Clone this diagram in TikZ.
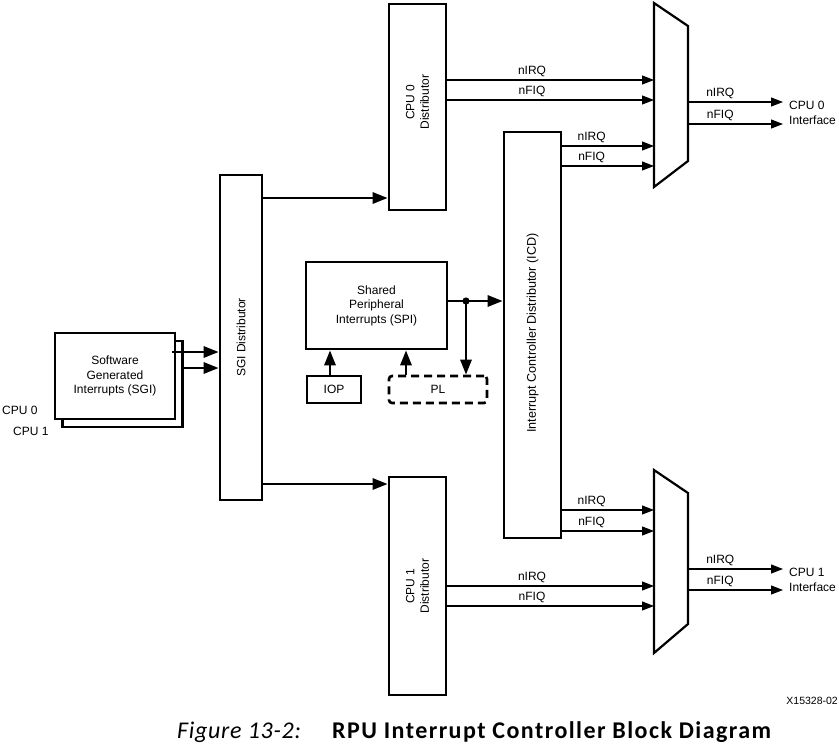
\documentclass[tikz,border=0pt]{standalone}
\usepackage{fontspec}
\setmainfont{Liberation Sans}
\newfontfamily\capfont{Carlito}
\usetikzlibrary{arrows.meta}

\begin{document}
\begin{tikzpicture}[x=1pt,y=-1pt]
\tikzset{block/.style = {draw, line width=2.6pt, inner sep=0pt, fill=white}}
\tikzset{dashblock/.style = {block, dash pattern=on 8pt off 5pt, rounded corners=3pt}}
\tikzset{txt/.style = {align=center, inner sep=0pt, font=\fontsize{12}{14.5}\selectfont}}
\tikzset{bus/.style = {line width=2.8pt, -{Triangle[length=15pt,width=11pt]}}}
\tikzset{sig/.style = {line width=1.1pt, -{Triangle[length=12pt,width=9pt]}}}
\tikzset{lbl/.style = {font=\fontsize{12}{13}\selectfont, inner sep=2.5pt, above}}
\tikzset{mux/.style = {line width=2.2pt, line join=miter}}
\useasboundingbox (0,0) rectangle (839,745);
% distributors and ICD
\node[block, minimum width=57, minimum height=206] (cpuzero) at (417.5,107) {};
\node[txt, rotate=90] (cpuzerotxt) at (417.5,102) {CPU 0\\Distributor};
\node[block, minimum width=57, minimum height=218] (cpuone) at (417.5,586) {};
\node[txt, rotate=90] (cpuonetxt) at (cpuone.center) {CPU 1\\Distributor};
\node[block, minimum width=57, minimum height=406] (icd) at (532.5,335) {};
\node[txt, rotate=90, font=\fontsize{12.6}{15}\selectfont] (icdtxt) at (532.5,333) {Interrupt Controller Distributor (ICD)};
\node[block, minimum width=42, minimum height=325] (sgidist) at (241,337.5) {};
\node[txt, rotate=90] (sgidisttxt) at (sgidist.center) {SGI Distributor};
% SGI sources
\node[block, minimum width=120, minimum height=86] (sgiback) at (122.5,384) {};
\node[block, minimum width=120, minimum height=86, txt] (sgifront) at (115,376) {Software\\Generated\\Interrupts (SGI)};
\node[txt, anchor=west] (cpuzerolbl) at (2,410) {CPU 0};
\node[txt, anchor=west] (cpuonelbl) at (13,431) {CPU 1};
% SPI
\node[block, minimum width=141, minimum height=87, txt] (spi) at (376.5,305.5) {Shared\\Peripheral\\Interrupts (SPI)};
\node[block, minimum width=54, minimum height=27, txt] (iop) at (334,389.5) {IOP};
\node[dashblock, minimum width=98, minimum height=27, txt] (pl) at (438,389.5) {PL};
\coordinate (junction) at (466,301);
% muxes
\draw[mux] (654,3) coordinate (mtop) -- (688,26) -- (688,161) -- (654,187) -- cycle;
\draw[mux] (654,470) coordinate (mbot) -- (688,493) -- (688,624) -- (654,653) -- cycle;
\coordinate (mt1) at (654,80);
\coordinate (mt2) at (654,100);
\coordinate (mt3) at (654,146);
\coordinate (mt4) at (654,166);
\coordinate (mb1) at (654,510);
\coordinate (mb2) at (654,531);
\coordinate (mb3) at (654,586);
\coordinate (mb4) at (654,606);
\coordinate (outtirq) at (783,102);
\coordinate (outtfiq) at (783,124);
\coordinate (outbirq) at (783,569);
\coordinate (outbfiq) at (783,590);
% thick connectors
\draw[bus] (sgidist.east |- 0,198) -- (cpuzero.west |- 0,198);
\draw[bus] (sgidist.east |- 0,484) -- (cpuone.west |- 0,484);
\draw[bus] (172,352) -- (sgidist.west |- 0,352);
\draw[bus] (sgiback.east |- 0,368) -- (sgidist.west |- 0,368);
\draw[bus] (spi.east |- junction) -- (icd.west |- junction);
\draw[bus] (junction) -- (junction |- pl.north);
\fill (junction) circle (3.6pt);
\draw[bus] ([xshift=-4pt]iop.north) -- ([xshift=-4pt]iop.north |- spi.south);
\draw[bus] ([xshift=-32pt]pl.north) -- ([xshift=-32pt]pl.north |- spi.south);
% interrupt lines
\draw[sig] (cpuzero.east |- mt1) -- node[lbl, pos=0.41] {nIRQ} (mt1);
\draw[sig] (cpuzero.east |- mt2) -- node[lbl, pos=0.41] {nFIQ} (mt2);
\draw[sig] (icd.east |- mt3) -- node[lbl, pos=0.32] {nIRQ} (mt3);
\draw[sig] (icd.east |- mt4) -- node[lbl, pos=0.32] {nFIQ} (mt4);
\draw[sig] (icd.east |- mb1) -- node[lbl, pos=0.32] {nIRQ} (mb1);
\draw[sig] (icd.east |- mb2) -- node[lbl, pos=0.32] {nFIQ} (mb2);
\draw[sig] (cpuone.east |- mb3) -- node[lbl, pos=0.41] {nIRQ} (mb3);
\draw[sig] (cpuone.east |- mb4) -- node[lbl, pos=0.41] {nFIQ} (mb4);
\draw[sig] (688,102) -- node[lbl, pos=0.34] {nIRQ} (outtirq);
\draw[sig] (688,124) -- node[lbl, pos=0.34] {nFIQ} (outtfiq);
\draw[sig] (688,569) -- node[lbl, pos=0.34] {nIRQ} (outbirq);
\draw[sig] (688,590) -- node[lbl, pos=0.34] {nFIQ} (outbfiq);
\node[txt, anchor=west, align=left] (ifzero) at (789,113) {CPU 0\\Interface};
\node[txt, anchor=west, align=left] (ifone) at (789,580) {CPU 1\\Interface};
% caption
\node[anchor=east, inner sep=0pt, font=\fontsize{10.5}{12}\selectfont] (xref) at (838,701) {X15328-02};
\node[anchor=base west, inner sep=0pt, font=\capfont\fontsize{24}{26}\selectfont] (fignum) at (177,738) {\itshape\addfontfeature{LetterSpace=3}Figure 13-2:};
\node[anchor=base west, inner sep=0pt, font=\capfont\fontsize{24}{26}\selectfont] (figtitle) at (332,738) {\bfseries\addfontfeature{LetterSpace=6}RPU Interrupt Controller Block Diagram};
\end{tikzpicture}
\end{document}
